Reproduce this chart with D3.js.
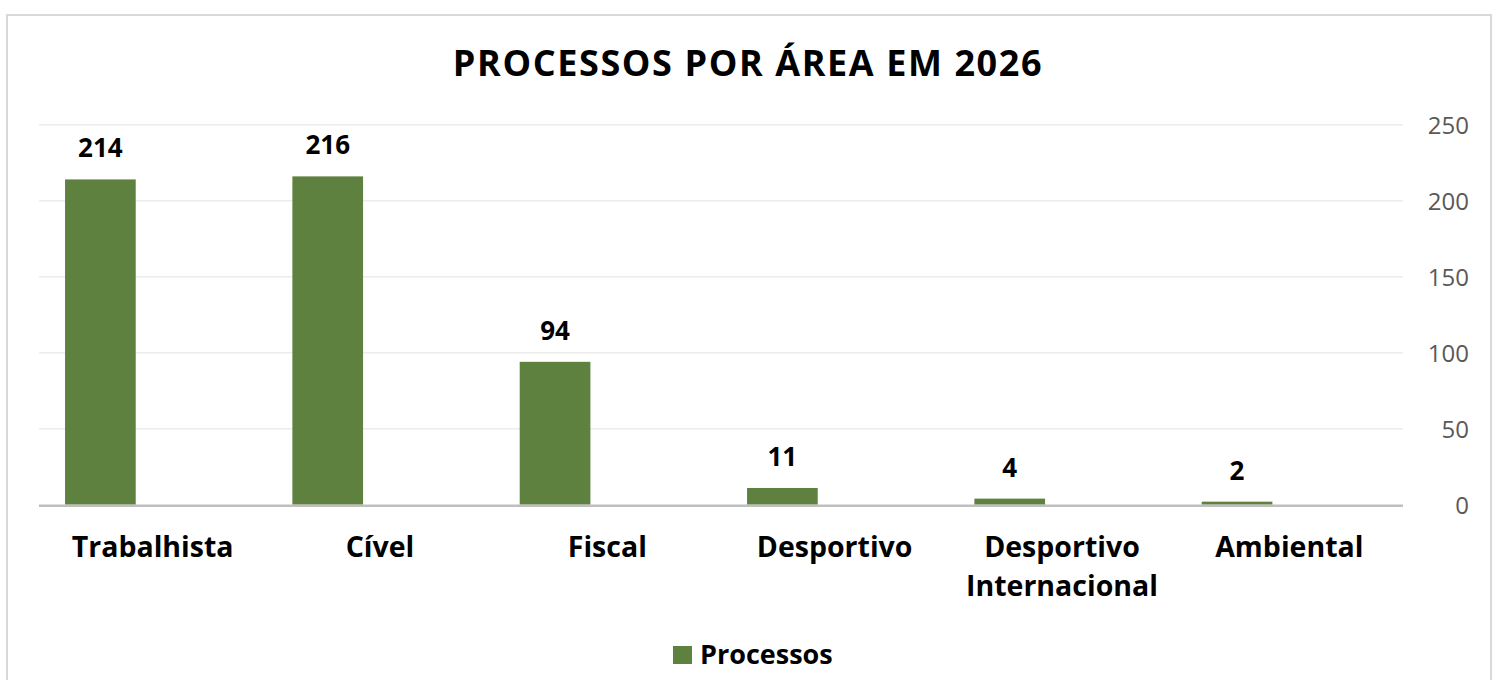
<!DOCTYPE html>
<html>
<head>
<meta charset="utf-8">
<script src="https://cdn.jsdelivr.net/npm/d3@7"></script>
<style>
  body { margin: 0; background: #fff; }
  svg text { font-family: "Open Sans", Lato, sans-serif; }
</style>
</head>
<body>
<div id="container"></div>
<script>
const width = 1502,
  height = 680;

// data
const categories = ["Trabalhista", "Cível", "Fiscal", "Desportivo", "Desportivo Internacional", "Ambiental"];
const seriesName = "Processos";
const values = [214, 216, 94, 11, 4, 2];
const yTicks = [0, 50, 100, 150, 200, 250];

const green = "#5e8140";

const svg = d3.select("#container").append("svg")
  .attr("width", width)
  .attr("height", height);

// outer chart border
svg.append("rect")
  .attr("x", 7).attr("y", 15)
  .attr("width", 1484).attr("height", 700)
  .attr("fill", "none")
  .attr("stroke", "#d9d9d9")
  .attr("stroke-width", 2);

/* SCALES */
const xScale = d3.scaleBand()
  .domain(categories)
  .range([39, 1403]);

// second (empty) slot keeps the bar on the left like the original layout
const inner = d3.scaleBand()
  .domain([seriesName, "_"])
  .range([0, xScale.bandwidth()])
  .paddingInner(0.324)
  .paddingOuter(0.249);

const yScale = d3.scaleLinear()
  .domain([0, 250])
  .range([504.7, 124.7]);

// gridlines
svg.append("g")
  .selectAll("line")
  .data(yTicks.filter(d => d > 0))
  .join("line")
  .attr("x1", 39).attr("x2", 1403)
  .attr("y1", d => yScale(d)).attr("y2", d => yScale(d))
  .attr("stroke", "#ececec")
  .attr("stroke-width", 1.5);

// bars
svg.selectAll("rect.bar")
  .data(values)
  .join("rect")
  .attr("class", "bar")
  .attr("x", (d, i) => xScale(categories[i]) + inner(seriesName))
  .attr("y", d => yScale(d))
  .attr("width", inner.bandwidth())
  .attr("height", d => yScale(0) - yScale(d))
  .attr("fill", green);

// x axis line
svg.append("line")
  .attr("x1", 39).attr("x2", 1403)
  .attr("y1", yScale(0) + 1).attr("y2", yScale(0) + 1)
  .attr("stroke", "#bfbfbf")
  .attr("stroke-width", 2.5);

// data labels
svg.selectAll("text.val")
  .data(values)
  .join("text")
  .attr("class", "val")
  .attr("text-anchor", "middle")
  .attr("x", (d, i) => xScale(categories[i]) + inner(seriesName) + inner.bandwidth() / 2)
  .attr("y", d => yScale(d) - 22)
  .style("font-size", "26px")
  .style("font-weight", "bold")
  .attr("fill", "#000")
  .text(d => d);

// right y axis
const yAxis = d3.axisRight(yScale)
  .tickValues(yTicks)
  .tickSize(0)
  .tickPadding(0);

const yG = svg.append("g")
  .attr("transform", "translate(1469,0)")
  .call(yAxis);
yG.select(".domain").remove();
yG.selectAll("text")
  .attr("text-anchor", "end")
  .attr("dy", "0.35em")
  .attr("fill", "#595959")
  .style("font-size", "24px");

// category labels
const catSplit = { "Desportivo Internacional": ["Desportivo", "Internacional"] };
svg.selectAll("text.cat")
  .data(categories)
  .join("text")
  .attr("class", "cat")
  .attr("text-anchor", "middle")
  .attr("x", d => xScale(d) + xScale.bandwidth() / 2)
  .attr("y", 557)
  .style("font-size", "28.5px")
  .style("font-weight", "bold")
  .attr("fill", "#000")
  .each(function (d) {
    const lines = catSplit[d] || [d];
    d3.select(this).selectAll("tspan")
      .data(lines)
      .join("tspan")
      .attr("x", xScale(d) + xScale.bandwidth() / 2)
      .attr("dy", (l, i) => i === 0 ? 0 : 39)
      .text(l => l);
  });

// title
svg.append("text")
  .attr("text-anchor", "middle")
  .attr("x", 748)
  .attr("y", 76)
  .style("font-size", "36px")
  .style("font-weight", "bold")
  .style("letter-spacing", "1.6px")
  .attr("fill", "#000")
  .text("PROCESSOS POR ÁREA EM 2026");

// legend
const legend = svg.append("g").attr("transform", "translate(673,646)");
legend.append("rect")
  .attr("width", 19).attr("height", 18)
  .attr("fill", green);
legend.append("text")
  .attr("x", 27).attr("y", 18)
  .style("font-size", "27px")
  .style("font-weight", "bold")
  .attr("fill", "#000")
  .text(seriesName);
</script>
</body>
</html>
